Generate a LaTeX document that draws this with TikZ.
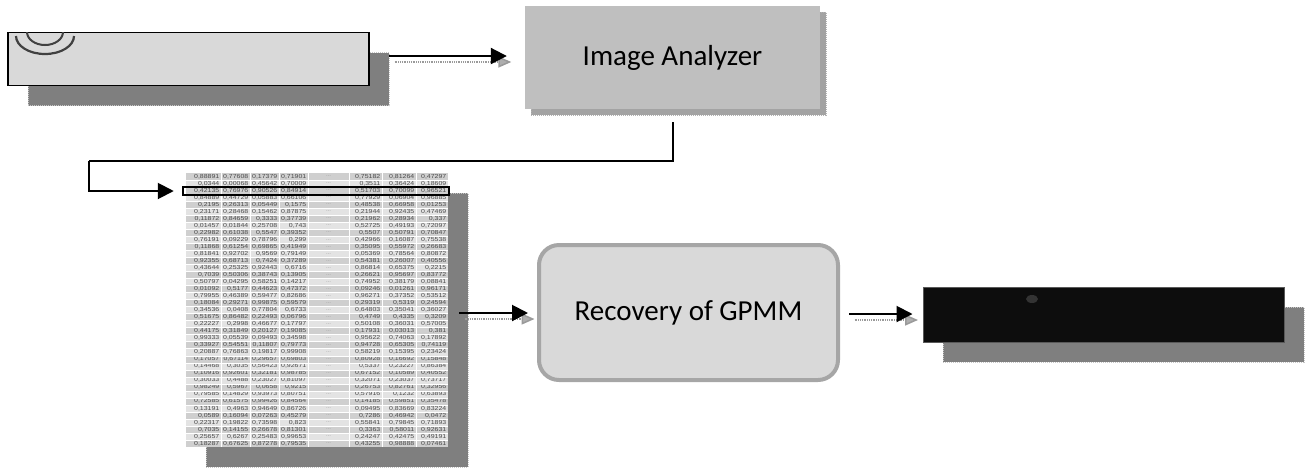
\documentclass[tikz,border=0pt]{standalone}
\usepackage{fontspec}
\setmainfont{Carlito}
\newfontfamily\tabfont[FakeStretch=1.2]{Liberation Sans}
\usetikzlibrary{shadows,arrows.meta}
\definecolor{lightfill}{HTML}{D9D9D9}
\definecolor{iafill}{HTML}{BFBFBF}
\definecolor{shadowgray}{HTML}{7F7F7F}
\definecolor{iashadow}{HTML}{A3A3A3}
\definecolor{gpdraw}{HTML}{A6A6A6}
\definecolor{blackfill}{HTML}{0D0D0D}
\definecolor{rowA}{HTML}{CFCFCF}
\definecolor{rowB}{HTML}{E3E3E3}
\definecolor{tabtext}{HTML}{4A4A4A}
\definecolor{arrowshade}{HTML}{9A9A9A}
\tikzset{
  bigshadow/.style={drop shadow={shadow xshift=20pt, shadow yshift=-20pt, fill=shadowgray, opacity=1,
     draw=gray!45, dash pattern=on 1pt off 1pt, line width=0.8pt}},
  imgbox/.style={rectangle, fill=lightfill, draw=black, line width=1.5pt, inner sep=0pt, bigshadow},
  iabox/.style={rectangle, fill=iafill, inner sep=0pt, font=\fontsize{29}{33}\selectfont,
     drop shadow={shadow xshift=6pt, shadow yshift=-6pt, fill=iashadow, opacity=1,
     draw=gray!60, dash pattern=on 1pt off 1pt, line width=0.8pt}},
  gpbox/.style={rectangle, rounded corners=20pt, fill=lightfill, draw=gpdraw, line width=4pt,
     inner sep=0pt, font=\fontsize{29}{33}\selectfont},
  darkbox/.style={rectangle, fill=blackfill, draw=black!65, line width=1pt, inner sep=0pt, bigshadow},
  tablebox/.style={rectangle, fill=white, inner sep=0pt, bigshadow},
  hlbox/.style={rectangle, draw=black, line width=2.5pt, inner sep=0pt},
  cell/.style={anchor=east, inner sep=0pt, text=tabtext, font=\tabfont\fontsize{5.8}{6}\selectfont},
  dotcell/.style={anchor=center, inner sep=0pt, text=tabtext!60, font=\tabfont\fontsize{5}{6}\selectfont},
  conn/.style={draw=black, line width=2pt, -{Triangle[length=16pt,width=16pt]}},
  elbow/.style={draw=black, line width=2pt},
  shadowconn/.style={draw=arrowshade, line width=1.5pt, dash pattern=on 1pt off 0.8pt,
     -{Triangle[length=13pt,width=11pt,color=arrowshade,fill=arrowshade!80]}},
}
\begin{document}
\begin{tikzpicture}[x=1pt,y=-1pt]
\useasboundingbox (0,0) rectangle (1309,475);

% ---- top-left image box ----
\node[imgbox, minimum width=361pt, minimum height=53pt] (img) at (188.5,59) {};
\begin{scope}
  \clip (8,32) rectangle (369,86);
  \draw[black!75, line width=2.2pt] (16,36) arc[start angle=180, end angle=0, x radius=29, y radius=18];
  \draw[black!75, line width=2pt] (27,32) arc[start angle=180, end angle=0, x radius=18, y radius=13];
\end{scope}

% ---- Image Analyzer ----
\node[iabox, minimum width=295pt, minimum height=103pt] (ia) at (672.5,57.5) {Image Analyzer};

% ---- table ----
\node[tablebox, minimum width=262pt, minimum height=274pt] (tbl) at (317,310) {};
\foreach \a/\b/\c/\d/\e/\f/\g [count=\i] in {
88891/77608/17379/71901/75182/81264/47297,
0344/00068/45642/70009/3511/36424/18609,
42135/76976/90526/84914/51703/70099/96521,
84889/44729/05883/66106/77929/06904/96885,
2195/26313/05449/1575/48538/66958/01253,
23171/28468/15462/87875/21944/92435/47469,
11872/84659/3333/37739/21962/28934/337,
01457/01844/25708/743/52725/49193/72097,
22982/61038/5547/39352/5507/50791/70847,
76191/09229/78796/299/42966/16087/75538,
11868/61254/69865/41949/35095/55972/26683,
81841/92702/9569/79149/05369/78564/80872,
92355/68713/7424/37289/54381/26007/40556,
43644/25325/92443/6716/86814/65375/2215,
7039/50306/38743/13905/26621/95697/83772,
50797/04295/58251/14217/74952/38179/08841,
01092/5177/44623/47372/09246/01261/96171,
79955/46389/59477/82686/96271/37352/53512,
18084/29271/99875/59579/29319/5319/24594,
34536/0408/77804/6733/64803/35041/36027,
51675/86482/22493/06796/4749/4335/3209,
22227/2998/46677/17797/50108/36031/57005,
44175/31849/20127/19085/17931/03013/381,
99333/05539/09493/34598/95622/74063/17892,
33927/54551/11807/79773/94728/65305/74119,
20887/76863/19817/99908/58219/15395/23424,
17057/67114/29657/69803/80928/16692/15848,
14468/3035/56423/92671/5337/23227/86384,
10916/92601/32181/98785/67152/10589/40552,
30033/4488/23027/81097/32071/23037/73717,
98249/5967/0658/9215/26753/82761/32956,
79585/14829/93973/80751/57916/1232/63893,
72585/61575/99426/84564/14185/59851/35478,
13191/4963/94649/86726/09495/83669/83224,
0589/16094/07263/45279/7286/46942/0472,
22317/19822/73598/823/55841/79845/71893,
7035/14155/26678/81301/3363/58011/92631,
25657/6267/25483/99653/24247/42475/49191,
18287/67625/87278/79535/43255/98888/07461}{
  \pgfmathsetmacro\yy{173+(\i-0.5)*7.0256}
  \pgfmathtruncatemacro\odd{mod(\i,2)}
  \ifnum\odd=1 \def\rc{rowA}\else\def\rc{rowB}\fi
  \fill[\rc] (186,\yy-3.52) rectangle (448,\yy+3.52);
  \node[cell] (r\i-1) at (219.5,\yy) {0,\a};
  \node[cell] (r\i-2) at (248.5,\yy) {0,\b};
  \node[cell] (r\i-3) at (277.5,\yy) {0,\c};
  \node[cell] (r\i-4) at (306.5,\yy) {0,\d};
  \node[dotcell] (r\i-5) at (328.5,\yy) {...};
  \node[cell] (r\i-6) at (380.5,\yy) {0,\e};
  \node[cell] (r\i-7) at (414.5,\yy) {0,\f};
  \node[cell] (r\i-8) at (446.5,\yy) {0,\g};
}
\foreach \x in {221,250,279,308,349,382,416}
  \draw[white, line width=0.7pt] (\x,173) -- (\x,447);
\foreach \k in {1,...,38}
  \draw[white, line width=0.3pt] (186,173+\k*7.0256) -- (448,173+\k*7.0256);
\node[hlbox, minimum width=266pt, minimum height=8pt] (hl) at (316,191) {};

% ---- Recovery of GPMM ----
\node[gpbox, minimum width=299pt, minimum height=135pt] (gp) at (688.5,312.5) {Recovery of GPMM};

% ---- black output box ----
\node[darkbox, minimum width=361pt, minimum height=55pt] (bb) at (1103.5,314.5) {};
\fill[black!80] (1032,299) ellipse[x radius=6, y radius=4];

% ---- connectors ----
\coordinate (a1) at (389,56);
\coordinate (a2) at (459,313);
\coordinate (a3) at (849,314);
\coordinate (c1) at (673,122);
\coordinate (bend) at (89,161);

% shadow copies of arrows
\begin{scope}[transform canvas={xshift=5.5pt, yshift=-6pt}]
  \draw[shadowconn, shorten >=19pt] (a1) -- (a1 -| ia.west);
  \draw[shadowconn, shorten >=8pt] (a2) -- (a2 -| gp.west);
  \draw[shadowconn, shorten >=10pt] (a3) -- (a3 -| bb.west);
\end{scope}

\draw[conn, shorten >=18pt] (a1) -- (a1 -| ia.west);
\draw[conn, shorten >=9pt] (a2) -- (a2 -| gp.west);
\draw[conn, shorten >=10pt] (a3) -- (a3 -| bb.west);
\draw[elbow] (c1) |- (bend);
\draw[conn, shorten >=8pt] (bend) |- (hl.west);
\end{tikzpicture}
\end{document}
